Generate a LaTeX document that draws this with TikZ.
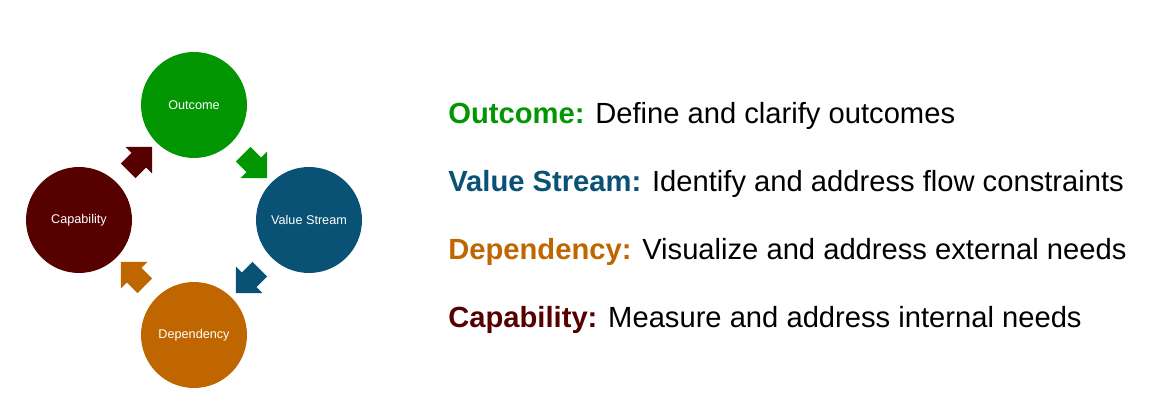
\documentclass[tikz,border=0pt]{standalone}
\usepackage{fontspec}
\setmainfont{Liberation Sans}
\usetikzlibrary{shapes.arrows,calc}
\definecolor{outcomegreen}{RGB}{3,150,3}
\definecolor{streamblue}{RGB}{9,82,117}
\definecolor{dependorange}{RGB}{191,102,0}
\definecolor{capabred}{RGB}{86,0,0}
\tikzset{
  stage/.style={circle, fill=#1, minimum size=2.12cm, inner sep=0pt, text=white, font=\fontsize{7.2}{9}\selectfont},
  flowarrow/.style={single arrow, fill=#1, draw=none, inner xsep=0pt, inner ysep=0.2cm,
    single arrow head extend=0.17cm, minimum height=0.68cm},
  legend/.style={anchor=base west, inner sep=0pt, font=\fontsize{16.6}{20}\selectfont}
}
\begin{document}
\begin{tikzpicture}[x=0.02cm, y=-0.02cm]
    \useasboundingbox (0,0) rectangle (1163,405);

    \node[stage=outcomegreen] (outcome)     at (194,105) {Outcome};
    \node[stage=streamblue]   (valuestream) at (309,220) {Value Stream};
    \node[stage=dependorange] (dependency)  at (194,335) {Dependency};
    \node[stage=capabred]     (capability)  at (79,220)  {Capability};

    \node[flowarrow=outcomegreen, rotate=-45]  (toStream)     at ($(outcome)!0.5!(valuestream)$)    {};
    \node[flowarrow=streamblue,   rotate=-135] (toDependency) at ($(valuestream)!0.5!(dependency)$) {};
    \node[flowarrow=dependorange, rotate=135]  (toCapability) at ($(dependency)!0.5!(capability)$)  {};
    \node[flowarrow=capabred,     rotate=45]   (toOutcome)    at ($(capability)!0.5!(outcome)$)     {};

    \node[legend] (outcomeText)    at (448,124) {{\bfseries\color{outcomegreen}Outcome:} Define and clarify outcomes};
    \node[legend] (streamText)     at (448,192) {{\bfseries\color{streamblue}Value Stream:} Identify and address flow constraints};
    \node[legend] (dependencyText) at (448,259) {{\bfseries\color{dependorange}Dependency:} Visualize and address external needs};
    \node[legend] (capabilityText) at (448,327) {{\bfseries\color{capabred}Capability:} Measure and address internal needs};
\end{tikzpicture}
\end{document}
